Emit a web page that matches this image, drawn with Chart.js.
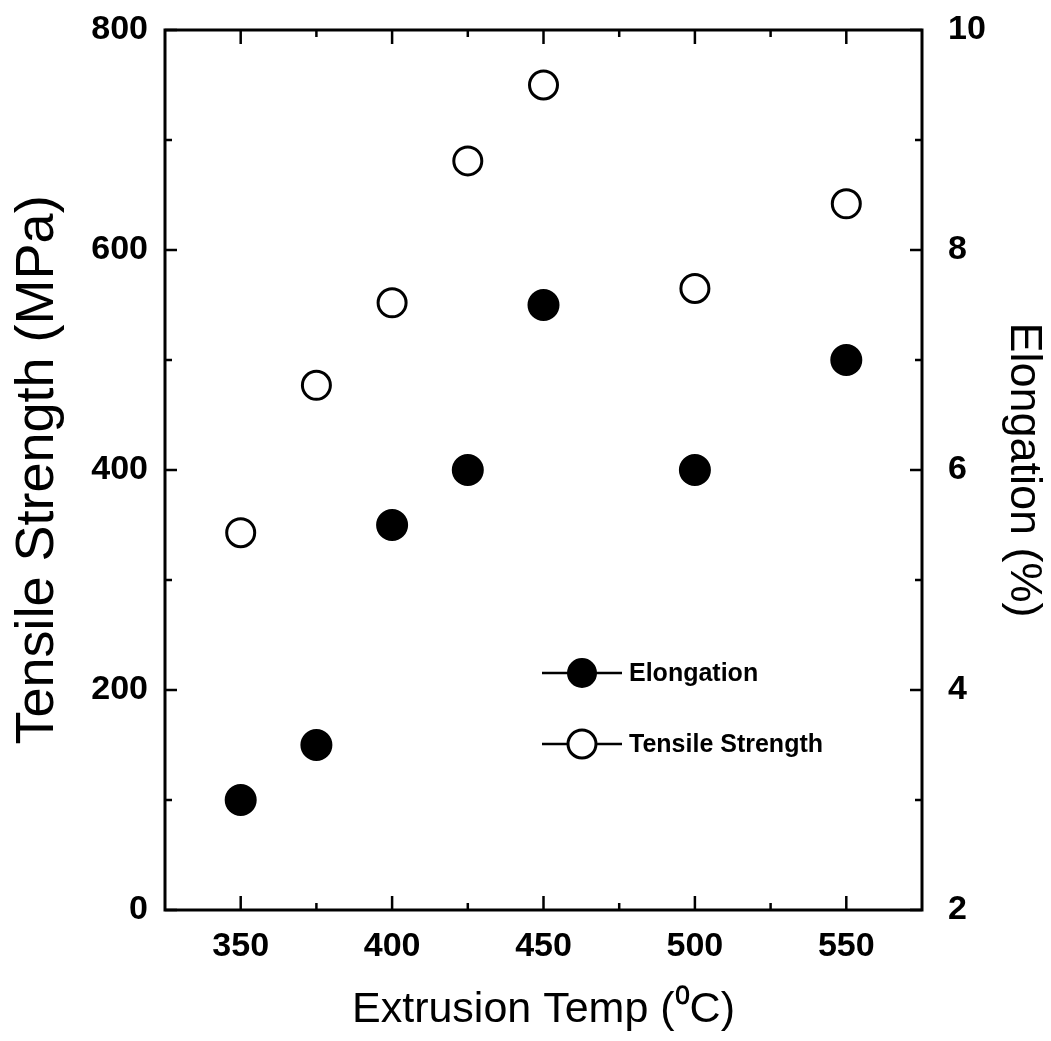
<!DOCTYPE html>
<html>
<head>
<meta charset="utf-8">
<title>Extrusion Temp vs Tensile Strength / Elongation</title>
<script src="https://cdn.jsdelivr.net/npm/chart.js@4.4.1/dist/chart.umd.min.js"></script>
<style>
  html, body { margin: 0; padding: 0; background: #fff; }
  #wrap { width: 1051px; height: 1041px; }
</style>
</head>
<body>
<div id="wrap"><canvas id="chart"></canvas></div>
<script>
// data
const temps = [350, 375, 400, 425, 450, 500, 550];
const tensileStrength = [343, 477, 552, 681, 750, 565, 642];   // MPa, open circles
const elongation = [3.0, 3.5, 5.5, 6.0, 7.5, 6.0, 7.0];       // %, filled circles
const xTicks = [350, 400, 450, 500, 550];
const yTicks = [0, 200, 400, 600, 800];
const y2Ticks = [2, 4, 6, 8, 10];

const FONT = "'Liberation Sans', Arial, Helvetica, sans-serif";

function points(ys) {
  return temps.map((t, i) => ({ x: t, y: ys[i] }));
}

// box round the plot plus inward major/minor ticks on all four sides
const framePlugin = {
  id: 'frame',
  afterDatasetsDraw(chart) {
    const { ctx, chartArea: a, scales } = chart;
    ctx.save();
    ctx.strokeStyle = '#000';
    const line = (x1, y1, x2, y2) => {
      ctx.beginPath(); ctx.moveTo(x1, y1); ctx.lineTo(x2, y2); ctx.stroke();
    };
    ctx.lineWidth = 2.5;

    const marks = (scale, vals) => {
      const step = vals[1] - vals[0];
      const out = vals.map(v => ({ v, major: true }));
      vals.forEach(v => {
        [v - step / 2, v + step / 2].forEach(m => {
          if (m > scale.min && m < scale.max && !out.some(o => o.v === m)) out.push({ v: m, major: false });
        });
      });
      return out;
    };

    marks(scales.x, xTicks).forEach(m => {
      const px = scales.x.getPixelForValue(m.v);
      const len = m.major ? 14 : 7;
      line(px, a.bottom, px, a.bottom - len);
      line(px, a.top, px, a.top + len);
    });
    marks(scales.y, yTicks).forEach(m => {
      const py = scales.y.getPixelForValue(m.v);
      line(a.left, py, a.left + (m.major ? 12 : 7), py);
    });
    marks(scales.y2, y2Ticks).forEach(m => {
      const py = scales.y2.getPixelForValue(m.v);
      line(a.right, py, a.right - (m.major ? 12 : 7), py);
    });

    ctx.lineWidth = 3;
    ctx.strokeRect(a.left, a.top, a.right - a.left, a.bottom - a.top);
    ctx.restore();
  }
};

// legend drawn inside the plot: short line with the marker in the middle
const legendPlugin = {
  id: 'inLegend',
  afterDatasetsDraw(chart) {
    const { ctx, chartArea: a } = chart;
    ctx.save();
    chart.data.datasets.forEach((ds, r) => {
      const y = a.top + 643 + r * 71;
      const x0 = a.left + 377;
      ctx.strokeStyle = '#000';
      ctx.lineWidth = 2.5;
      ctx.beginPath();
      ctx.moveTo(x0, y); ctx.lineTo(x0 + 80, y); ctx.stroke();
      ctx.beginPath();
      ctx.arc(x0 + 40, y, 14, 0, Math.PI * 2);
      ctx.fillStyle = ds.backgroundColor;
      ctx.fill();
      ctx.lineWidth = ds.borderWidth;
      ctx.stroke();
      ctx.fillStyle = '#000';
      ctx.font = "bold 25px " + FONT;
      ctx.textBaseline = 'middle';
      ctx.fillText(ds.label, x0 + 87, y + 1);
    });
    ctx.restore();
  }
};

const noPad = s => { s.paddingTop = 0; s.paddingBottom = 0; };

const ctx = document.getElementById('chart').getContext('2d');
new Chart(ctx, {
  type: 'scatter',
  data: {
    datasets: [
      {
        label: 'Elongation',
        data: points(elongation),
        yAxisID: 'y2',
        pointStyle: 'circle',
        pointRadius: 15,
        pointHoverRadius: 15,
        backgroundColor: '#000',
        borderColor: '#000',
        borderWidth: 2,
        showLine: false
      },
      {
        label: 'Tensile Strength',
        data: points(tensileStrength),
        yAxisID: 'y',
        pointStyle: 'circle',
        pointRadius: 14,
        pointHoverRadius: 14,
        backgroundColor: '#fff',
        borderColor: '#000',
        borderWidth: 3,
        showLine: false
      }
    ]
  },
  options: {
    responsive: true,
    maintainAspectRatio: false,
    animation: false,
    layout: { padding: { top: 30, left: 0, right: 0, bottom: 0 } },
    plugins: {
      legend: { display: false },
      tooltip: { enabled: false }
    },
    scales: {
      x: {
        type: 'linear',
        min: 325,
        max: 575,
        afterBuildTicks: s => { s.ticks = xTicks.map(v => ({ value: v })); },
        afterFit: s => { s.height = 131; s.paddingLeft = 0; s.paddingRight = 0; },
        grid: { display: false, drawTicks: false },
        border: { display: false },
        ticks: { color: '#000', padding: 16, font: { family: FONT, size: 34, weight: 'bold' } },
        title: {
          display: true,
          text: 'Extrusion Temp (\u2070C)',
          color: '#000',
          padding: 5,
          font: { family: FONT, size: 43 }
        }
      },
      y: {
        type: 'linear',
        position: 'left',
        min: 0,
        max: 800,
        afterBuildTicks: s => { s.ticks = yTicks.map(v => ({ value: v })); },
        afterFit: s => { s.width = 165; noPad(s); },
        grid: { display: false, drawTicks: false },
        border: { display: false },
        ticks: { color: '#000', padding: 17, font: { family: FONT, size: 34, weight: 'bold' } },
        title: {
          display: true,
          text: 'Tensile Strength (MPa)',
          color: '#000',
          padding: 6,
          font: { family: FONT, size: 54 }
        }
      },
      y2: {
        type: 'linear',
        position: 'right',
        min: 2,
        max: 10,
        afterBuildTicks: s => { s.ticks = y2Ticks.map(v => ({ value: v })); },
        afterFit: s => { s.width = 129; noPad(s); },
        grid: { display: false, drawTicks: false },
        border: { display: false },
        ticks: { color: '#000', padding: 26, font: { family: FONT, size: 34, weight: 'bold' } },
        title: {
          display: true,
          text: 'Elongation (%)',
          color: '#000',
          padding: 1,
          font: { family: FONT, size: 45 }
        }
      }
    }
  },
  plugins: [framePlugin, legendPlugin]
});
</script>
</body>
</html>
